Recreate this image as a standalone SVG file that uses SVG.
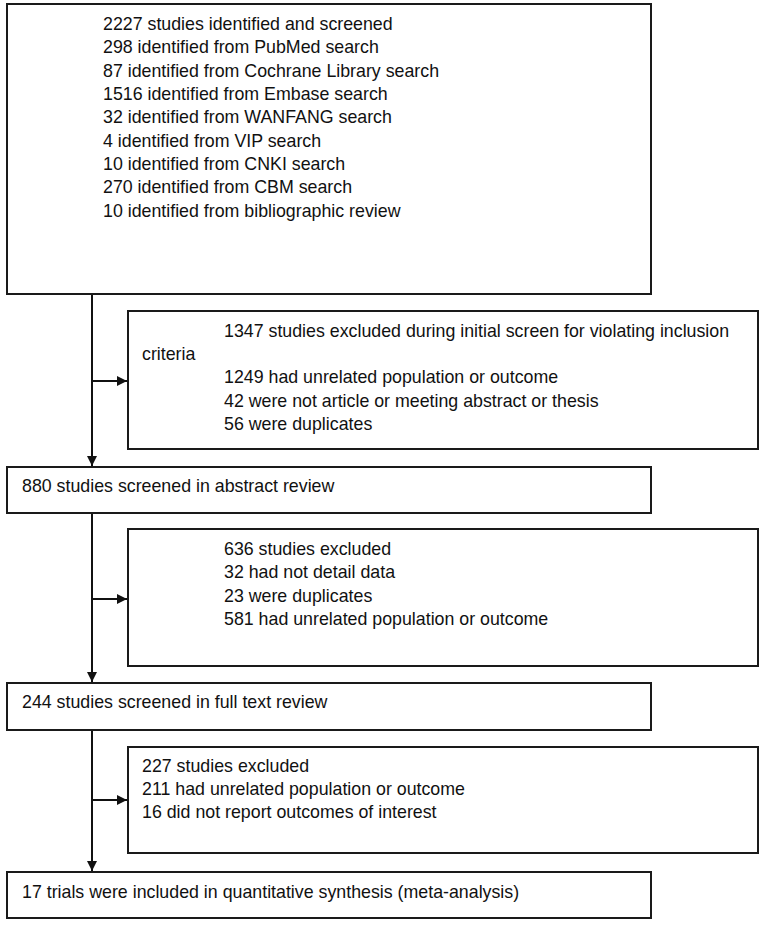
<svg xmlns="http://www.w3.org/2000/svg" width="765" height="929" viewBox="0 0 765 929">
<style>
.box{fill:#fff;stroke:#1a1a1a;stroke-width:2}
.t{font-family:"Liberation Sans",Arial,sans-serif;font-size:17.8px;fill:#111}
.c{stroke:#111;stroke-width:2;fill:none}
</style>
<defs>
<marker id="ah" viewBox="0 0 10 10" refX="10" refY="5" markerWidth="10" markerHeight="10" markerUnits="userSpaceOnUse" orient="auto">
<path d="M0,0 L10,5 L0,10 Z" fill="#111"/>
</marker>
</defs>
<rect width="765" height="929" fill="#fff"/>
<g id="connectors">
<line class="c" x1="92" y1="294" x2="92" y2="466" marker-end="url(#ah)"/>
<line class="c" x1="92" y1="381" x2="127" y2="381" marker-end="url(#ah)"/>
<line class="c" x1="92" y1="513" x2="92" y2="682" marker-end="url(#ah)"/>
<line class="c" x1="92" y1="599" x2="127" y2="599" marker-end="url(#ah)"/>
<line class="c" x1="92" y1="730" x2="92" y2="871" marker-end="url(#ah)"/>
<line class="c" x1="92" y1="800" x2="127" y2="800" marker-end="url(#ah)"/>
</g>
<g id="n1">
<rect class="box" x="7" y="4" width="644" height="290"/>
<text class="t" x="103" y="30">2227 studies identified and screened</text>
<text class="t" x="103" y="53">298 identified from PubMed search</text>
<text class="t" x="103" y="76.5">87 identified from Cochrane Library search</text>
<text class="t" x="103" y="100">1516 identified from Embase search</text>
<text class="t" x="103" y="123">32 identified from WANFANG search</text>
<text class="t" x="103" y="146.5">4 identified from VIP search</text>
<text class="t" x="103" y="170">10 identified from CNKI search</text>
<text class="t" x="103" y="193">270 identified from CBM search</text>
<text class="t" x="103" y="216.5">10 identified from bibliographic review</text>
</g>
<g id="n2">
<rect class="box" x="128" y="311" width="630" height="138"/>
<text class="t" x="224" y="337">1347 studies excluded during initial screen for violating inclusion</text>
<text class="t" x="142" y="360">criteria</text>
<text class="t" x="224" y="383">1249 had unrelated population or outcome</text>
<text class="t" x="224" y="407">42 were not article or meeting abstract or thesis</text>
<text class="t" x="224" y="430">56 were duplicates</text>
</g>
<g id="n3">
<rect class="box" x="7" y="467" width="644" height="46"/>
<text class="t" x="22" y="492">880 studies screened in abstract review</text>
</g>
<g id="n4">
<rect class="box" x="128" y="529" width="630" height="137"/>
<text class="t" x="224" y="555">636 studies excluded</text>
<text class="t" x="224" y="578">32 had not detail data</text>
<text class="t" x="224" y="601.5">23 were duplicates</text>
<text class="t" x="224" y="625">581 had unrelated population or outcome</text>
</g>
<g id="n5">
<rect class="box" x="7" y="683" width="644" height="47"/>
<text class="t" x="22" y="708">244 studies screened in full text review</text>
</g>
<g id="n6">
<rect class="box" x="128" y="747" width="630" height="106"/>
<text class="t" x="142" y="772">227 studies excluded</text>
<text class="t" x="142" y="795">211 had unrelated population or outcome</text>
<text class="t" x="142" y="818">16 did not report outcomes of interest</text>
</g>
<g id="n7">
<rect class="box" x="7" y="872" width="644" height="46"/>
<text class="t" x="22" y="898">17 trials were included in quantitative synthesis (meta-analysis)</text>
</g>
</svg>
